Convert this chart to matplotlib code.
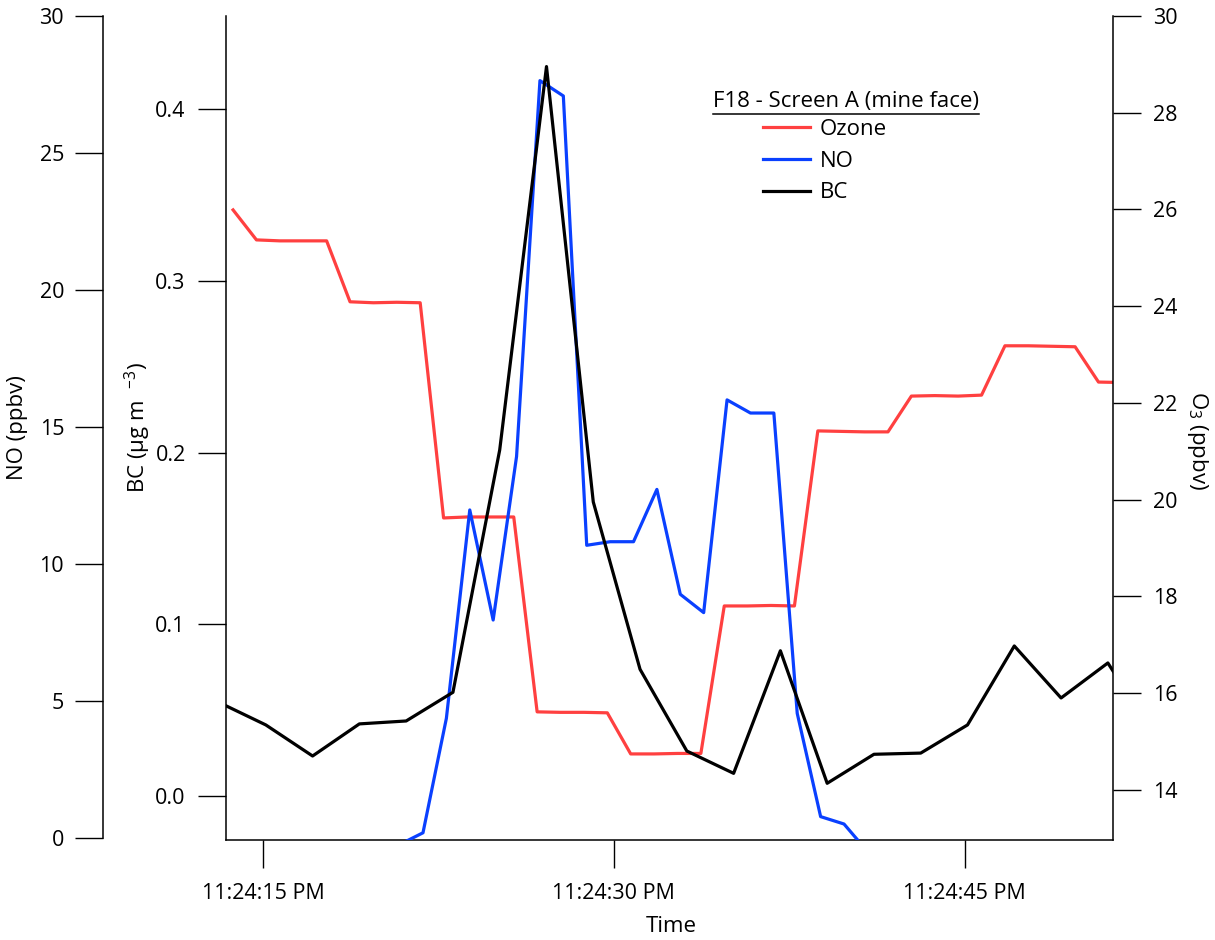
import matplotlib
matplotlib.use("Agg")
import matplotlib.pyplot as plt
from matplotlib.ticker import FuncFormatter, FixedLocator
from matplotlib.lines import Line2D

# seconds after 11:24:00 PM
ozone_sec = [13.72, 14.72, 15.72, 16.72, 17.72, 18.72, 19.72, 20.72, 21.72, 22.72,
             23.72, 24.72, 25.72, 26.72, 27.72, 28.72, 29.72, 30.72, 31.72, 32.72,
             33.72, 34.72, 35.72, 36.72, 37.72, 38.72, 39.72, 40.72, 41.72, 42.72,
             43.72, 44.72, 45.72, 46.72, 47.72, 48.72, 49.72, 50.72, 51.72]
ozone = [25.99, 25.37, 25.35, 25.35, 25.35, 24.09, 24.07, 24.08, 24.07, 19.62,
         19.64, 19.64, 19.64, 15.61, 15.60, 15.60, 15.59, 14.74, 14.74, 14.75,
         14.75, 17.80, 17.80, 17.81, 17.80, 21.42, 21.41, 21.40, 21.40, 22.14,
         22.15, 22.14, 22.16, 23.18, 23.18, 23.17, 23.16, 22.43, 22.42]

no_sec = [20.84, 21.84, 22.84, 23.84, 24.84, 25.84, 26.84, 27.84, 28.84, 29.84,
          30.84, 31.84, 32.84, 33.84, 34.84, 35.84, 36.84, 37.84, 38.84, 39.84, 40.84]
no = [-0.25, 0.18, 4.36, 11.97, 7.95, 13.92, 27.65, 27.09, 10.68, 10.81,
      10.81, 12.72, 8.89, 8.22, 15.99, 15.51, 15.51, 4.54, 0.77, 0.50, -0.5]

bc_sec = [13.12, 15.12, 17.12, 19.12, 21.12, 23.12, 25.12, 27.12, 29.12, 31.12,
          33.12, 35.12, 37.12, 39.12, 41.12, 43.12, 45.12, 47.12, 49.12, 51.12, 53.12]
bc = [0.0545, 0.0414, 0.0233, 0.0420, 0.0437, 0.0604, 0.2016, 0.4249, 0.1713, 0.0738,
      0.0262, 0.0132, 0.0846, 0.0074, 0.0243, 0.0250, 0.0414, 0.0874, 0.0571, 0.0775, 0.035]

time_ticks = [15, 30, 45]
no_ticks = [0, 5, 10, 15, 20, 25, 30]
bc_ticks = [0.0, 0.1, 0.2, 0.3, 0.4]
o3_ticks = [14, 16, 18, 20, 22, 24, 26, 28, 30]

red = "#ff4040"
blue = "#0a40ff"

plt.rcParams["font.family"] = ["Open Sans", "DejaVu Sans"]
plt.rcParams["mathtext.fontset"] = "custom"
plt.rcParams["mathtext.rm"] = "Open Sans"
plt.rcParams["mathtext.default"] = "regular"

fig = plt.figure(figsize=(12.15, 9.4), dpi=100)
W, H = 1215, 940
ax = fig.add_axes([226 / W, (H - 840) / H, (1113 - 226) / W, (840 - 16) / H])
ax_no = ax.twinx()
ax_bc = ax.twinx()

tick_fs = 15.5
lab_fs = 16
lw = 2.3

# host axes: ozone on the right
l_o3, = ax.plot(ozone_sec, ozone, color=red, lw=lw, label="Ozone")
ax.set_xlim(13.418, 51.34)
ax.set_ylim(12.96, 30.0)
ax.yaxis.tick_right()
ax.yaxis.set_label_position("right")
ax.yaxis.set_major_locator(FixedLocator(o3_ticks))
ax.xaxis.set_major_locator(FixedLocator(time_ticks))
ax.xaxis.set_major_formatter(FuncFormatter(lambda v, p: "11:24:%02d PM" % round(v)))
for s in ["top", "left"]:
    ax.spines[s].set_visible(False)
ax.tick_params(axis="x", direction="out", length=20, width=1, pad=11, labelsize=tick_fs)
ax.tick_params(axis="y", direction="out", length=20, width=1, pad=9, labelsize=tick_fs)
ax.set_xlabel("Time", fontsize=lab_fs)
ax.xaxis.set_label_coords(0.502, -0.092)
ax.set_ylabel("O$_3$ (ppbv)", fontsize=lab_fs, rotation=270, va="bottom")
ax.yaxis.set_label_coords(1.0813, 0.485)

# NO on an offset left axis
l_no, = ax_no.plot(no_sec, no, color=blue, lw=lw, label="NO")
ax_no.set_ylim(-0.084, 30.01)
ax_no.yaxis.tick_left()
ax_no.yaxis.set_label_position("left")
ax_no.yaxis.set_major_locator(FixedLocator(no_ticks))
for s in ["top", "right", "bottom"]:
    ax_no.spines[s].set_visible(False)
ax_no.spines["left"].set_position(("axes", -(226 - 103) / 887))
ax_no.spines["left"].set_bounds(0, 30)
ax_no.tick_params(axis="y", direction="out", length=20, width=1, pad=8, labelsize=tick_fs)
ax_no.set_ylabel("NO (ppbv)", fontsize=lab_fs)
ax_no.yaxis.set_label_coords(-0.2235, 0.5)

# BC on the inner left axis, drawn on top
l_bc, = ax_bc.plot(bc_sec, bc, color="black", lw=lw, label="BC")
ax_bc.set_ylim(-0.02563, 0.45435)
ax_bc.yaxis.tick_left()
ax_bc.yaxis.set_label_position("left")
ax_bc.yaxis.set_major_locator(FixedLocator(bc_ticks))
ax_bc.yaxis.set_major_formatter(FuncFormatter(lambda v, p: "%.1f" % v))
for s in ["top", "right", "bottom"]:
    ax_bc.spines[s].set_visible(False)
ax_bc.tick_params(axis="y", direction="out", length=20, width=1, pad=9, labelsize=tick_fs)
ax_bc.set_ylabel("BC (µg m  $^{-3}$)", fontsize=lab_fs)
ax_bc.yaxis.set_label_coords(-0.0823, 0.5)

for a in [ax, ax_no, ax_bc]:
    for sp in a.spines.values():
        sp.set_linewidth(1.1)

leg = fig.legend(handles=[l_o3, l_no, l_bc], loc="upper left",
                 bbox_to_anchor=(763 / W, 1 - 119 / H), frameon=False,
                 fontsize=16, handlelength=2.1, handletextpad=0.45,
                 labelspacing=0.48, borderpad=0, borderaxespad=0)

title = fig.text(846 / W, 1 - 102 / H, "F18 - Screen A (mine face)",
                 fontsize=16, ha="center", va="center")
fig.canvas.draw()
bb = title.get_window_extent()
fig.add_artist(Line2D([bb.x0 / W, bb.x1 / W], [1 - 114 / H] * 2,
                      transform=fig.transFigure, color="black", lw=1.1))

fig.savefig("out.png", dpi=100)
